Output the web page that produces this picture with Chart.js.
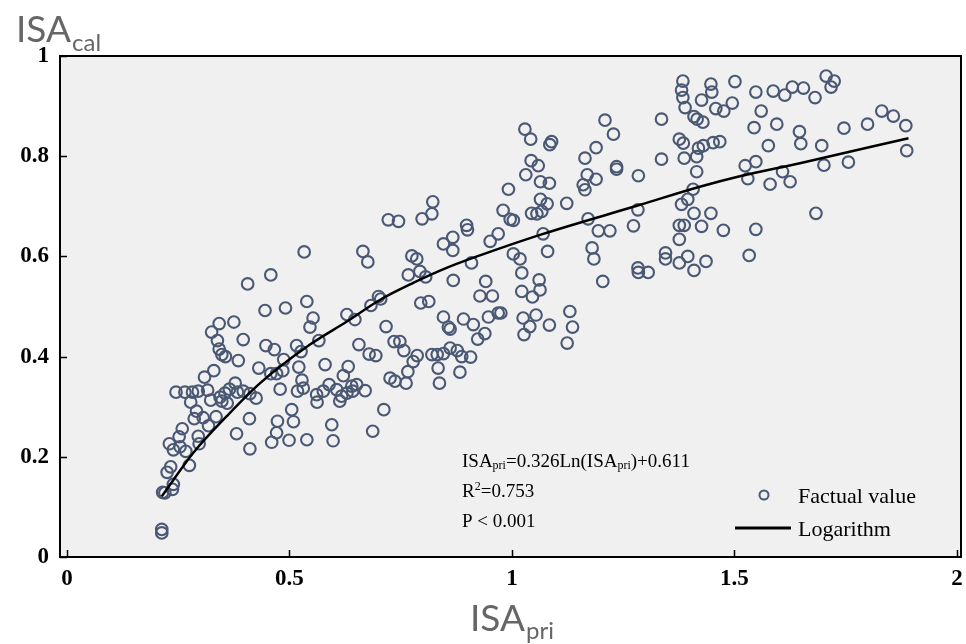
<!DOCTYPE html>
<html><head><meta charset="utf-8">
<script src="https://cdn.jsdelivr.net/npm/chart.js@4.4.1/dist/chart.umd.min.js"></script>
<style>html,body{margin:0;padding:0;background:#fff;}#wrap{width:966px;height:644px;}</style>
</head><body><div id="wrap"><canvas id="c" width="966" height="644"></canvas></div>
<script>
// ---- data ----
const xValues = [
0.445,0.491,0.539,0.342,0.375,0.325,0.338,0.396,0.342,0.348,0.356,0.447,0.466,0.516,0.526,0.385,0.487,0.431,0.330,0.309,
0.458,0.471,0.485,0.521,0.528,0.479,0.518,0.531,0.245,0.265,0.282,0.295,0.316,0.278,0.323,0.344,0.355,0.365,0.378,0.348,
0.360,0.383,0.396,0.411,0.425,0.291,0.286,0.306,0.318,0.335,0.410,0.505,0.473,0.509,0.471,0.460,0.499,0.539,0.381,0.411,
0.259,0.252,0.230,0.239,0.254,0.267,0.295,0.297,0.275,0.233,0.225,0.239,0.237,0.215,0.220,0.213,0.213,0.406,0.458,0.533,
0.665,0.676,0.775,0.786,0.846,0.867,0.867,0.900,0.951,0.969,0.767,0.793,0.806,0.868,0.909,0.941,0.928,0.956,0.947,0.969,
0.553,0.546,0.629,0.647,0.683,0.700,0.705,0.795,0.813,0.846,0.891,0.857,0.861,0.913,0.923,0.939,0.717,0.566,0.656,0.679,
0.694,0.735,0.748,0.757,0.787,0.778,0.766,0.820,0.832,0.846,0.861,0.877,0.887,0.907,0.834,0.883,0.837,0.726,0.737,0.762,
0.580,0.632,0.621,0.561,0.562,0.576,0.589,0.606,0.617,0.613,0.629,0.640,0.651,0.642,0.670,0.712,0.595,0.687,0.598,0.822,
0.820,0.798,0.722,0.745,0.898,0.992,0.980,0.996,1.003,1.022,1.022,1.046,1.063,1.061,1.084,1.025,1.040,1.027,1.054,0.975,
1.209,1.228,1.029,1.042,1.085,1.089,1.189,1.164,1.235,1.235,1.043,1.059,1.031,1.064,1.084,1.169,1.189,1.160,1.164,1.284,
1.064,1.079,1.123,1.044,1.056,1.067,1.171,1.194,1.220,1.273,1.283,1.070,1.080,1.003,1.018,1.180,1.184,1.283,1.336,1.376,
1.385,1.419,1.430,1.452,1.467,1.387,1.415,1.336,1.415,1.409,1.416,1.429,1.407,1.395,1.381,1.409,1.447,1.376,1.387,1.426,
1.475,1.376,1.345,1.345,1.395,1.376,1.409,1.436,1.284,1.306,1.204,1.130,1.136,1.124,1.384,1.381,1.384,1.389,1.447,1.449,
1.501,1.426,1.458,1.476,1.495,1.548,1.587,1.613,1.630,1.655,1.681,1.706,1.724,1.717,1.560,1.544,1.595,1.646,1.649,1.696,
1.701,1.576,1.524,1.548,1.530,1.580,1.608,1.625,1.548,1.683,1.746,1.799,1.831,1.857,1.885,1.887,1.756,1.533
];
const yValues = [
0.492,0.497,0.510,0.466,0.469,0.449,0.432,0.434,0.415,0.404,0.400,0.422,0.414,0.422,0.410,0.392,0.394,0.377,0.372,0.359,
0.366,0.366,0.372,0.379,0.353,0.335,0.331,0.337,0.329,0.329,0.329,0.331,0.333,0.309,0.313,0.319,0.327,0.335,0.347,0.311,
0.307,0.329,0.331,0.326,0.317,0.291,0.276,0.278,0.262,0.280,0.276,0.294,0.271,0.270,0.248,0.229,0.233,0.234,0.246,0.216,
0.256,0.240,0.226,0.214,0.220,0.211,0.241,0.226,0.183,0.180,0.169,0.145,0.135,0.129,0.128,0.055,0.048,0.545,0.563,0.609,
0.610,0.589,0.601,0.595,0.625,0.638,0.612,0.653,0.630,0.645,0.563,0.570,0.559,0.552,0.587,0.550,0.521,0.521,0.479,0.487,
0.477,0.459,0.484,0.474,0.502,0.520,0.515,0.507,0.510,0.479,0.475,0.459,0.455,0.464,0.435,0.446,0.460,0.432,0.424,0.405,
0.402,0.430,0.430,0.412,0.402,0.390,0.370,0.404,0.404,0.406,0.417,0.412,0.400,0.399,0.377,0.369,0.347,0.357,0.351,0.347,
0.384,0.380,0.362,0.324,0.309,0.331,0.344,0.334,0.321,0.311,0.327,0.341,0.344,0.331,0.332,0.294,0.264,0.251,0.232,0.709,
0.685,0.675,0.673,0.670,0.662,0.734,0.692,0.674,0.672,0.567,0.530,0.519,0.533,0.553,0.463,0.477,0.460,0.444,0.483,0.487,
0.872,0.844,0.854,0.834,0.823,0.829,0.817,0.796,0.779,0.774,0.791,0.781,0.763,0.749,0.746,0.763,0.754,0.743,0.733,0.761,
0.714,0.705,0.706,0.686,0.685,0.690,0.675,0.651,0.651,0.661,0.693,0.645,0.610,0.605,0.595,0.617,0.595,0.577,0.874,0.834,
0.826,0.816,0.821,0.827,0.829,0.796,0.799,0.794,0.769,0.879,0.874,0.868,0.734,0.714,0.704,0.686,0.686,0.662,0.662,0.660,
0.652,0.634,0.607,0.595,0.600,0.587,0.572,0.590,0.568,0.568,0.550,0.490,0.459,0.427,0.950,0.932,0.917,0.897,0.944,0.928,
0.949,0.912,0.895,0.890,0.906,0.928,0.930,0.922,0.938,0.936,0.917,0.960,0.950,0.938,0.890,0.857,0.864,0.849,0.825,0.821,
0.782,0.821,0.781,0.789,0.755,0.744,0.769,0.749,0.654,0.686,0.856,0.864,0.890,0.880,0.861,0.811,0.788,0.602
];
const fitX = [0.213,0.284,0.359,0.434,0.546,0.629,0.703,0.778,0.853,0.928,1.063,1.288,1.422,1.512,1.647,1.891];
const fitY = [0.121,0.208,0.281,0.347,0.424,0.470,0.513,0.547,0.577,0.602,0.643,0.703,0.739,0.760,0.786,0.836];
const xTickValues = [0, 0.5, 1, 1.5, 2];
const yTickValues = [0, 0.2, 0.4, 0.6, 0.8, 1];
const seriesNames = ['Factual value', 'Logarithm'];
const xTitle = ['ISA', 'pri'];
const yTitle = ['ISA', 'cal'];
const equationParts = [['ISA',''],['pri','sub'],['=0.326Ln(ISA',''],['pri','sub'],[')+0.611','']];
const r2Parts = [['R',''],['2','sup'],['=0.753','']];
const pText = 'P < 0.001';

// ---- styles ----
const pointColor = '#4a5874';
const serif = '"Liberation Serif","Times New Roman",serif';
const sans = 'Lato, "Open Sans", sans-serif';

function drawRich(ctx, parts, x, y, size, subSize) {
  let cx = x;
  for (const [t, kind] of parts) {
    let dy = 0, fs = size;
    if (kind === 'sub') { fs = subSize; dy = 2; }
    if (kind === 'sup') { fs = subSize; dy = -7; }
    ctx.font = fs + 'px ' + serif;
    ctx.fillText(t, cx, y + dy);
    cx += ctx.measureText(t).width;
  }
}

const decor = {
  id: 'decor',
  beforeDraw(chart) {
    const { ctx, chartArea: a } = chart;
    ctx.save();
    ctx.fillStyle = '#ffffff';
    ctx.fillRect(0, 0, chart.width, chart.height);
    ctx.fillStyle = '#f0f0f0';
    ctx.fillRect(a.left, a.top, a.right - a.left, a.bottom - a.top);
    ctx.restore();
  },
  afterDatasetsDraw(chart) {
    const { ctx, chartArea: a, scales } = chart;
    ctx.save();
    ctx.strokeStyle = '#000';
    ctx.lineWidth = 2;
    ctx.strokeRect(a.left, a.top, a.right - a.left, a.bottom - a.top);
    ctx.lineWidth = 1.5;
    ctx.beginPath();
    for (const v of xTickValues) {
      const px = Math.round(scales.x.getPixelForValue(v)) + 0.5;
      ctx.moveTo(px, a.bottom); ctx.lineTo(px, a.bottom - 7);
    }
    for (const v of yTickValues) {
      const py = Math.round(scales.y.getPixelForValue(v)) + 0.5;
      ctx.moveTo(a.left, py); ctx.lineTo(a.left + 7, py);
    }
    ctx.stroke();
    ctx.restore();
  },
  afterDraw(chart) {
    const { ctx } = chart;
    ctx.save();
    // axis titles
    ctx.fillStyle = '#666666';
    ctx.textBaseline = 'alphabetic';
    ctx.textAlign = 'left';
    ctx.font = '37px ' + sans;
    ctx.fillText(yTitle[0], 16, 42);
    let w = ctx.measureText(yTitle[0]).width;
    ctx.font = '24px ' + sans;
    ctx.fillText(yTitle[1], 16 + w + 1, 51);
    ctx.font = '37px ' + sans;
    ctx.fillText(xTitle[0], 470, 631);
    w = ctx.measureText(xTitle[0]).width;
    ctx.font = '24px ' + sans;
    ctx.fillText(xTitle[1], 470 + w + 1, 639);
    // annotation
    ctx.fillStyle = '#000';
    drawRich(ctx, equationParts, 462, 467, 19, 12);
    drawRich(ctx, r2Parts, 462, 497, 19, 12);
    ctx.font = '19px ' + serif;
    ctx.fillText(pText, 462, 527);
    // legend
    ctx.strokeStyle = pointColor;
    ctx.lineWidth = 2;
    ctx.beginPath();
    ctx.arc(764, 495, 4.5, 0, Math.PI * 2);
    ctx.stroke();
    ctx.strokeStyle = '#000';
    ctx.lineWidth = 3;
    ctx.beginPath();
    ctx.moveTo(735, 528); ctx.lineTo(791, 528);
    ctx.stroke();
    ctx.font = '22px ' + serif;
    ctx.fillText(seriesNames[0], 798, 503);
    ctx.fillText(seriesNames[1], 798, 536);
    ctx.restore();
  }
};

const tickFont = { family: serif, weight: 'bold', size: 23 };

new Chart(document.getElementById('c'), {
  type: 'scatter',
  data: {
    datasets: [
      {
        label: seriesNames[1],
        type: 'line',
        data: fitX.map((x, i) => ({ x, y: fitY[i] })),
        borderColor: '#000',
        borderWidth: 2.5,
        pointRadius: 0,
        fill: false,
        cubicInterpolationMode: 'monotone',
        order: 0
      },
      {
        label: seriesNames[0],
        data: xValues.map((x, i) => ({ x, y: yValues[i] })),
        showLine: false,
        pointRadius: 5.8,
        pointBorderWidth: 2.1,
        pointBorderColor: pointColor,
        pointBackgroundColor: 'rgba(0,0,0,0)',
        order: 1
      }
    ]
  },
  options: {
    responsive: false,
    animation: false,
    events: [],
    devicePixelRatio: 1,
    layout: { autoPadding: false, padding: { top: 56, right: 5, left: 0, bottom: 0 } },
    plugins: { legend: { display: false }, tooltip: { enabled: false } },
    scales: {
      x: {
        type: 'linear', min: -0.0157, max: 2.009,
        afterBuildTicks: s => { s.ticks = xTickValues.map(v => ({ value: v })); },
        afterFit: s => { s.height = 87; s.paddingLeft = 0; s.paddingRight = 0; },
        grid: { display: false, drawTicks: false },
        border: { display: false },
        ticks: { color: '#000', font: tickFont, padding: 8, maxRotation: 0, autoSkip: false, callback: v => String(v) }
      },
      y: {
        type: 'linear', min: 0, max: 1,
        afterBuildTicks: s => { s.ticks = yTickValues.map(v => ({ value: v })); },
        afterFit: s => { s.width = 60; s.paddingTop = 0; s.paddingBottom = 0; },
        grid: { display: false, drawTicks: false },
        border: { display: false },
        ticks: { color: '#000', font: tickFont, padding: 11, autoSkip: false, callback: v => String(v) }
      }
    }
  },
  plugins: [decor]
});
</script></body></html>
